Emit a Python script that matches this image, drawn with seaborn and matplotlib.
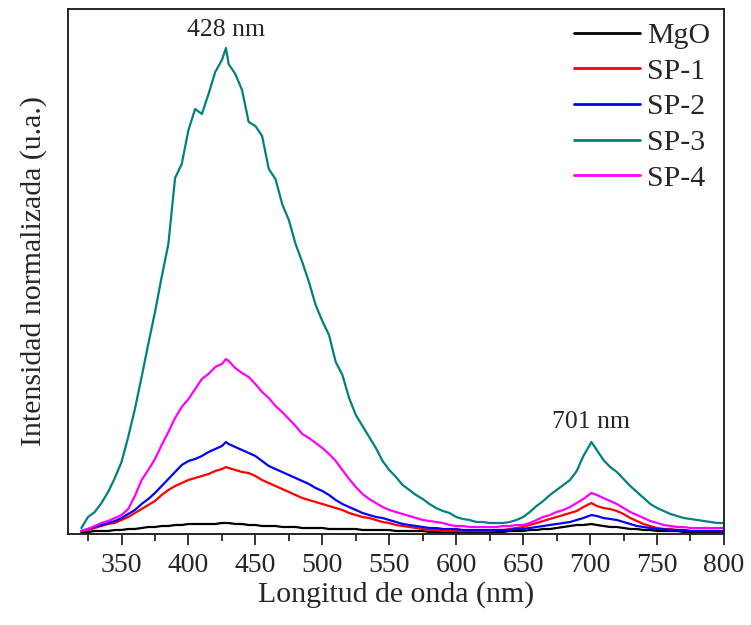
import matplotlib
matplotlib.use("Agg")
import matplotlib.pyplot as plt
from matplotlib.ticker import MultipleLocator, NullLocator
import numpy as np
import pandas as pd
import seaborn as sns

# Wavelength grid (nm)
wavelength = [
    320, 325, 330, 335, 340, 345, 350, 355, 360, 365,
    370, 375, 380, 385, 390, 395, 400, 405, 410, 415,
    420, 425, 428, 430, 435, 440, 445, 450, 455, 460,
    465, 470, 475, 480, 485, 490, 495, 500, 505, 510,
    515, 520, 525, 530, 535, 540, 545, 550, 555, 560,
    565, 570, 575, 580, 585, 590, 595, 600, 605, 610,
    615, 620, 625, 630, 635, 640, 645, 650, 655, 660,
    665, 670, 675, 680, 685, 690, 695, 701, 705, 710,
    715, 720, 725, 730, 735, 740, 745, 750, 755, 760,
    765, 770, 775, 780, 785, 790, 795, 800,
]

mgo = [
    2, 2, 3, 3, 3, 4, 4, 5, 5, 6,
    7, 7, 8, 8, 9, 9, 10, 10, 10, 10,
    10, 11, 11, 11, 10, 10, 9, 9, 8, 8,
    8, 7, 7, 7, 6, 6, 6, 6, 5, 5,
    5, 5, 5, 4, 4, 4, 4, 4, 3, 3,
    3, 3, 3, 2, 2, 2, 2, 2, 2, 2,
    2, 2, 2, 2, 2, 3, 3, 3, 4, 4,
    5, 5, 6, 7, 8, 9, 9, 10, 9, 8,
    7, 7, 6, 5, 5, 4, 4, 3, 3, 3,
    3, 2, 2, 2, 2, 2, 2, 2,
]

sp1 = [
    3, 4, 6, 8, 10, 11, 14, 17, 21, 25,
    29, 33, 39, 44, 48, 51, 54, 56, 58, 60,
    63, 65, 67, 66, 64, 62, 61, 58, 54, 51,
    48, 45, 42, 39, 36, 34, 32, 30, 28, 26,
    24, 21, 19, 17, 16, 14, 12, 11, 9, 8,
    7, 6, 5, 4, 4, 3, 3, 3, 3, 3,
    3, 3, 3, 4, 4, 5, 6, 7, 9, 11,
    13, 15, 17, 19, 21, 23, 27, 31, 28, 26,
    25, 23, 20, 16, 13, 10, 8, 6, 5, 5,
    4, 4, 3, 3, 3, 3, 3, 3,
]

sp2 = [
    3, 5, 7, 9, 11, 13, 16, 20, 24, 30,
    35, 41, 48, 55, 62, 69, 73, 75, 78, 82,
    85, 88, 92, 90, 87, 84, 81, 78, 73, 68,
    65, 62, 59, 56, 53, 50, 46, 43, 39, 34,
    30, 27, 24, 21, 19, 17, 16, 14, 12, 10,
    9, 8, 7, 6, 6, 5, 5, 5, 4, 4,
    4, 4, 4, 4, 4, 4, 5, 5, 6, 7,
    8, 9, 10, 11, 12, 14, 16, 19, 18, 16,
    15, 14, 12, 10, 8, 7, 6, 5, 5, 4,
    4, 4, 3, 3, 3, 3, 3, 3,
]

sp3 = [
    6, 17, 22, 31, 42, 56, 72, 97, 125, 157,
    190, 222, 257, 290, 356, 370, 404, 425, 420, 440,
    462, 474, 486, 470, 460, 444, 412, 408, 398, 365,
    355, 330, 314, 290, 272, 252, 229, 213, 199, 172,
    159, 136, 119, 108, 97, 86, 73, 64, 57, 49,
    44, 39, 35, 30, 26, 23, 21, 17, 15, 14,
    12, 12, 11, 11, 11, 12, 14, 17, 22, 28,
    33, 39, 44, 49, 54, 63, 78, 92, 84, 74,
    67, 62, 55, 48, 42, 36, 30, 26, 23, 20,
    18, 16, 15, 14, 13, 12, 11, 11,
]

sp4 = [
    3, 5, 8, 11, 13, 16, 19, 25, 38, 54,
    64, 75, 89, 102, 116, 127, 135, 145, 155, 160,
    167, 170, 175, 173, 166, 161, 157, 150, 142, 136,
    128, 122, 115, 108, 100, 96, 91, 86, 80, 73,
    64, 55, 47, 40, 35, 31, 27, 24, 22, 20,
    18, 16, 14, 13, 12, 11, 9, 8, 8, 7,
    7, 7, 7, 7, 8, 8, 9, 9, 11, 14,
    17, 19, 22, 24, 27, 31, 35, 41, 39, 36,
    33, 30, 26, 22, 19, 16, 13, 11, 9, 8,
    7, 7, 6, 6, 6, 6, 6, 6,
]

samples = ["MgO", "SP-1", "SP-2", "SP-3", "SP-4"]
colors = ["#000000", "#ff0000", "#0000ff", "#008080", "#ff00ff"]
series = [mgo, sp1, sp2, sp3, sp4]

# Emission maxima labelled above the peaks
peak_labels = ["428 nm", "701 nm"]
peak_pos = [428, 701]
peak_text_y = [504, 112]

frames = []
for name, vals in zip(samples, series):
    assert len(vals) == len(wavelength), name
    frames.append(pd.DataFrame({"wl": wavelength, "I": vals, "muestra": name}))
df = pd.concat(frames, ignore_index=True)

sns.set_style("ticks")
plt.rcParams["font.family"] = ["Liberation Serif", "DejaVu Serif"]

fig = plt.figure(figsize=(7.51, 6.25), dpi=100)
ax = fig.add_axes([0.0905, 0.1456, 0.8735, 0.84])

sns.lineplot(data=df, x="wl", y="I", hue="muestra", hue_order=samples,
             palette=colors, linewidth=1.6, ax=ax, legend=True, estimator=None)

ax.set_xlim(310, 800)
ax.set_ylim(0, 525)
ax.set_xticks([350, 400, 450, 500, 550, 600, 650, 700, 750, 800])
ax.xaxis.set_minor_locator(MultipleLocator(25))
ax.yaxis.set_major_locator(NullLocator())
ax.tick_params(axis="x", which="major", direction="out", length=8, width=1.3,
               labelsize=20, pad=6)
ax.tick_params(axis="x", which="minor", direction="out", length=5, width=1.3)
for s in ax.spines.values():
    s.set_linewidth(1.4)
    s.set_visible(True)

ax.set_xlabel("Longitud de onda (nm)", fontsize=21.5, labelpad=2)
ax.set_ylabel("Intensidad normalizada (u.a.)", fontsize=21.5, labelpad=15)

for txt, xp, yp in zip(peak_labels, peak_pos, peak_text_y):
    ax.text(xp, yp, txt, ha="center", va="center", fontsize=18.5)

leg = ax.legend(loc="upper right", frameon=False, fontsize=21.5, handlelength=2.2,
                labelspacing=0.29, handletextpad=0.25, borderaxespad=0.05,
                bbox_to_anchor=(1.0, 1.0))
for line in leg.get_lines():
    line.set_linewidth(2.0)

fig.savefig("out.png", dpi=100)
